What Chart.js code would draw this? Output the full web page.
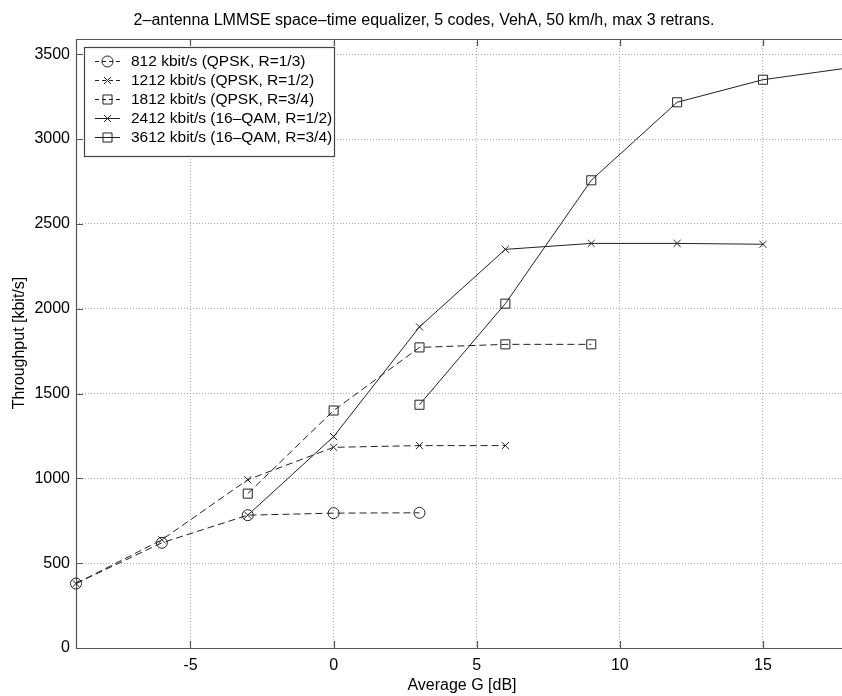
<!DOCTYPE html>
<html>
<head>
<meta charset="utf-8">
<script src="https://cdn.jsdelivr.net/npm/chart.js@4.4.1/dist/chart.umd.min.js"></script>
<style>
html,body{margin:0;padding:0;background:#fff;}
#wrap{width:842px;height:696px;position:relative;}
</style>
</head>
<body>
<div id="wrap"><canvas id="c" width="842" height="696"></canvas></div>
<script>
// ---- data ----
const titleText = "2\u2013antenna LMMSE space\u2013time equalizer, 5 codes, VehA, 50 km/h, max 3 retrans.";
const xLabel = "Average G [dB]";
const yLabel = "Throughput [kbit/s]";
const seriesNames = [
  "812 kbit/s (QPSK, R=1/3)",
  "1212 kbit/s (QPSK, R=1/2)",
  "1812 kbit/s (QPSK, R=3/4)",
  "2412 kbit/s (16\u2013QAM, R=1/2)",
  "3612 kbit/s (16\u2013QAM, R=3/4)"
];
const x812 = [-9, -6, -3, 0, 3];
const y812 = [380, 620, 783, 795, 797];
const x1212 = [-9, -6, -3, 0, 3, 6];
const y1212 = [380, 638, 992, 1183, 1193, 1193];
const x1812 = [-3, 0, 3, 6, 9];
const y1812 = [910, 1400, 1772, 1790, 1790];
const x2412 = [-3, 0, 3, 6, 9, 12, 15];
const y2412 = [783, 1246, 1893, 2350, 2385, 2385, 2380];
const x3612 = [3, 6, 9, 12, 15, 18];
const y3612 = [1434, 2030, 2757, 3217, 3350, 3420];
const xTicks = [-5, 0, 5, 10, 15];
const yTicks = [0, 500, 1000, 1500, 2000, 2500, 3000, 3500];

const FONT = "'Liberation Sans', Arial, Helvetica, sans-serif";
const LINE = '#222';
const styles = [
  {marker: 'circle', r: 5.5, dash: [7, 4]},
  {marker: 'crossRot', r: 5, dash: [7, 4]},
  {marker: 'rect', r: 6.4, dash: [7, 4]},
  {marker: 'crossRot', r: 5, dash: []},
  {marker: 'rect', r: 6.4, dash: []}
];
const xs = [x812, x1212, x1812, x2412, x3612];
const ys = [y812, y1212, y1812, y2412, y3612];

const datasets = xs.map((xa, i) => ({
  label: seriesNames[i],
  data: xa.map((v, j) => ({x: v, y: ys[i][j]})),
  showLine: true,
  clip: false,
  borderColor: LINE,
  borderWidth: 1,
  borderDash: styles[i].dash,
  pointStyle: styles[i].marker,
  pointRadius: styles[i].r,
  pointHoverRadius: styles[i].r,
  pointBorderColor: LINE,
  pointBackgroundColor: 'rgba(0,0,0,0)',
  pointBorderWidth: 1,
  fill: false,
  tension: 0
}));

const decor = {
  id: 'decor',
  afterLayout(chart) {
    const a = chart.chartArea;
    const W = chart.width;
    if (a.right < W) {
      a.right = W;
      a.width = a.right - a.left;
      const sx = chart.scales.x;
      sx.right = W;
      sx.width = sx.right - sx.left;
      sx.configure();
    }
  },
  beforeDatasetsDraw(chart) {
    const ctx = chart.ctx;
    const a = chart.chartArea;
    const xs_ = chart.scales.x, ys_ = chart.scales.y;
    ctx.save();
    ctx.strokeStyle = '#555';
    ctx.lineWidth = 1.2;
    ctx.setLineDash([]);
    ctx.beginPath();
    ctx.moveTo(a.right + 2, a.top + 0.5);
    ctx.lineTo(a.left + 0.5, a.top + 0.5);
    ctx.lineTo(a.left + 0.5, a.bottom + 0.5);
    ctx.lineTo(a.right + 2, a.bottom + 0.5);
    ctx.stroke();
    ctx.beginPath();
    xTicks.forEach(v => {
      const px = Math.round(xs_.getPixelForValue(v)) + 0.5;
      ctx.moveTo(px, a.bottom); ctx.lineTo(px, a.bottom - 7);
      ctx.moveTo(px, a.top); ctx.lineTo(px, a.top + 7);
    });
    yTicks.forEach(v => {
      const py = Math.round(ys_.getPixelForValue(v)) + 0.5;
      ctx.moveTo(a.left, py); ctx.lineTo(a.left + 7, py);
    });
    ctx.stroke();
    ctx.restore();
  },
  afterDraw(chart) {
    const ctx = chart.ctx;
    ctx.save();
    ctx.fillStyle = '#000';
    ctx.font = '16px ' + FONT;
    ctx.textAlign = 'center';
    ctx.textBaseline = 'middle';
    ctx.fillText(titleText, 424, 21);
    ctx.fillText(xLabel, 462, 686);
    ctx.save();
    ctx.translate(20, 343);
    ctx.rotate(-Math.PI / 2);
    ctx.fillText(yLabel, 0, 0);
    ctx.restore();
    // legend
    const L = 84, T = 47, R = 334, B = 156;
    ctx.fillStyle = '#fff';
    ctx.fillRect(L, T, R - L, B - T);
    ctx.strokeStyle = '#444';
    ctx.lineWidth = 1.2;
    ctx.strokeRect(L + 0.5, T + 0.5, R - L, B - T);
    const rowY = [61, 80, 99, 118, 137];
    chart.data.datasets.forEach((ds, i) => {
      const y = rowY[i];
      ctx.strokeStyle = LINE;
      ctx.lineWidth = 1;
      ctx.setLineDash(styles[i].dash.length ? [4, 3] : []);
      ctx.beginPath();
      ctx.moveTo(95, y + 0.5); ctx.lineTo(120, y + 0.5);
      ctx.stroke();
      ctx.setLineDash([]);
      ctx.fillStyle = 'rgba(0,0,0,0)';
      ctx.strokeStyle = LINE;
      Chart.helpers.drawPoint(ctx, {pointStyle: styles[i].marker, radius: styles[i].r, borderWidth: 1}, 107.5, y + 0.5);
      ctx.fillStyle = '#000';
      ctx.font = '15.5px ' + FONT;
      ctx.textAlign = 'left';
      ctx.textBaseline = 'middle';
      ctx.fillText(ds.label, 131, y + 1);
    });
    ctx.restore();
  }
};

new Chart(document.getElementById('c'), {
  type: 'scatter',
  data: {datasets},
  options: {
    responsive: false,
    animation: false,
    devicePixelRatio: 1,
    layout: {padding: {top: 39, right: 0, left: 0, bottom: 0}},
    plugins: {legend: {display: false}, title: {display: false}, tooltip: {enabled: false}},
    scales: {
      x: {
        type: 'linear', min: -9, max: 17.76,
        afterBuildTicks: s => { s.ticks = xTicks.map(v => ({value: v})); },
        afterFit: s => { s.height = 48; s.paddingLeft = 0; s.paddingRight = 0; },
        grid: {color: '#aaa', lineWidth: 1, drawTicks: false},
        border: {display: false, dash: [1, 2]},
        ticks: {color: '#000', font: {family: FONT, size: 16}, padding: 8, maxRotation: 0,
                callback: v => String(v)}
      },
      y: {
        type: 'linear', min: 0, max: 3590,
        afterBuildTicks: s => { s.ticks = yTicks.map(v => ({value: v})); },
        afterFit: s => { s.width = 76; },
        grid: {color: '#aaa', lineWidth: 1, drawTicks: false},
        border: {display: false, dash: [1, 2]},
        ticks: {color: '#000', font: {family: FONT, size: 16}, padding: 6,
                callback: v => String(v)}
      }
    }
  },
  plugins: [decor]
});
</script>
</body>
</html>
